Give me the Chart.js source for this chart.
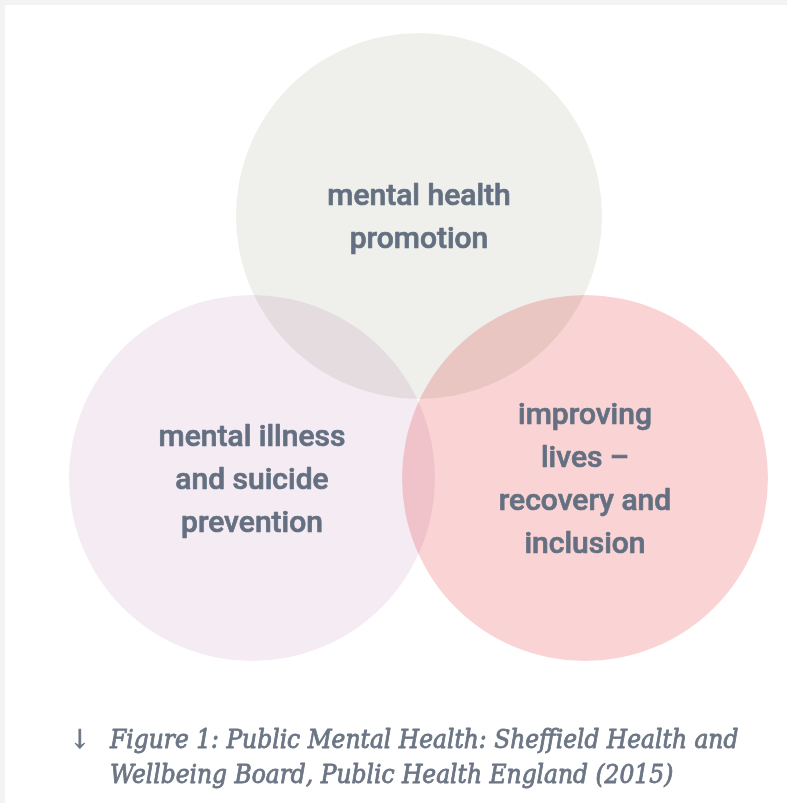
<!DOCTYPE html>
<html>
<head>
<meta charset="utf-8">
<script src="https://cdn.jsdelivr.net/npm/chart.js@4.4.1/dist/chart.umd.min.js"></script>
<style>
html,body{margin:0;padding:0;background:#ffffff;}
#wrap{position:relative;width:787px;height:803px;}
canvas{display:block;}
</style>
</head>
<body>
<div id="wrap"><canvas id="c" width="787" height="803"></canvas></div>
<script>
// ---- data ----
const categories = ['mental health promotion', 'mental illness and suicide prevention', 'improving lives – recovery and inclusion'];
const labelLines = [
  ['mental health', 'promotion'],
  ['mental illness', 'and suicide', 'prevention'],
  ['improving', 'lives –', 'recovery and', 'inclusion']
];
const centerX = [419, 252, 585];
const centerY = [216, 478, 478];
const radius = [183, 183, 183];
const circleColors = ['#efefeb', '#f5ebf3', '#fad4d4'];
const captionLines = ['Figure 1: Public Mental Health: Sheffield Health and', 'Wellbeing Board, Public Health England (2015)'];

const points = categories.map((c, i) => ({x: centerX[i], y: centerY[i], r: radius[i]}));

const bgPlugin = {
  id: 'bg',
  beforeDraw(chart) {
    const ctx = chart.ctx;
    ctx.save();
    ctx.fillStyle = '#f3f3f3';
    ctx.fillRect(0, 0, chart.width, chart.height);
    ctx.fillStyle = '#ffffff';
    ctx.fillRect(5, 5, chart.width - 5, chart.height - 5);
    ctx.restore();
  }
};

const blendPlugin = {
  id: 'blend',
  beforeDatasetsDraw(chart) { chart.ctx.save(); chart.ctx.globalCompositeOperation = 'multiply'; },
  afterDatasetsDraw(chart) { chart.ctx.restore(); }
};

function boldText(ctx, t, x, y, w) {
  ctx.lineWidth = w;
  ctx.lineJoin = 'round';
  ctx.strokeText(t, x, y);
  ctx.fillText(t, x, y);
}

const labelPlugin = {
  id: 'labels',
  afterDraw(chart) {
    const ctx = chart.ctx;
    const xs = chart.scales.x, ys = chart.scales.y;
    ctx.save();
    ctx.fillStyle = '#647081';
    ctx.strokeStyle = '#647081';
    ctx.textAlign = 'center';
    ctx.textBaseline = 'middle';
    ctx.font = '500 30px Roboto';
    const lh = 43;
    labelLines.forEach((lines, i) => {
      const px = xs.getPixelForValue(centerX[i]);
      const py = ys.getPixelForValue(centerY[i]) + 3;
      const start = py - (lines.length - 1) * lh / 2;
      lines.forEach((t, j) => boldText(ctx, t, px, start + j * lh, 0.7));
    });
    // caption
    ctx.textAlign = 'left';
    ctx.textBaseline = 'alphabetic';
    ctx.fillStyle = '#6b7584';
    ctx.strokeStyle = '#6b7584';
    ctx.font = 'italic 26px "DejaVu Serif Condensed"';
    boldText(ctx, '↓', 70, 748, 0.8);
    boldText(ctx, captionLines[0], 110, 748, 0.8);
    boldText(ctx, captionLines[1], 110, 783, 0.8);
    ctx.restore();
  }
};

new Chart(document.getElementById('c'), {
  type: 'bubble',
  data: {
    datasets: [{
      label: 'Public mental health',
      data: points,
      backgroundColor: circleColors,
      borderWidth: 0,
      hoverBorderWidth: 0,
      clip: false
    }]
  },
  options: {
    responsive: false,
    animation: false,
    devicePixelRatio: 1,
    events: [],
    layout: {padding: 0, autoPadding: false},
    plugins: {legend: {display: false}, tooltip: {enabled: false}, title: {display: false}},
    scales: {
      x: {type: 'linear', min: 0, max: 787, display: false},
      y: {type: 'linear', min: 0, max: 803, reverse: true, display: false}
    }
  },
  plugins: [bgPlugin, blendPlugin, labelPlugin]
});
</script>
</body>
</html>
